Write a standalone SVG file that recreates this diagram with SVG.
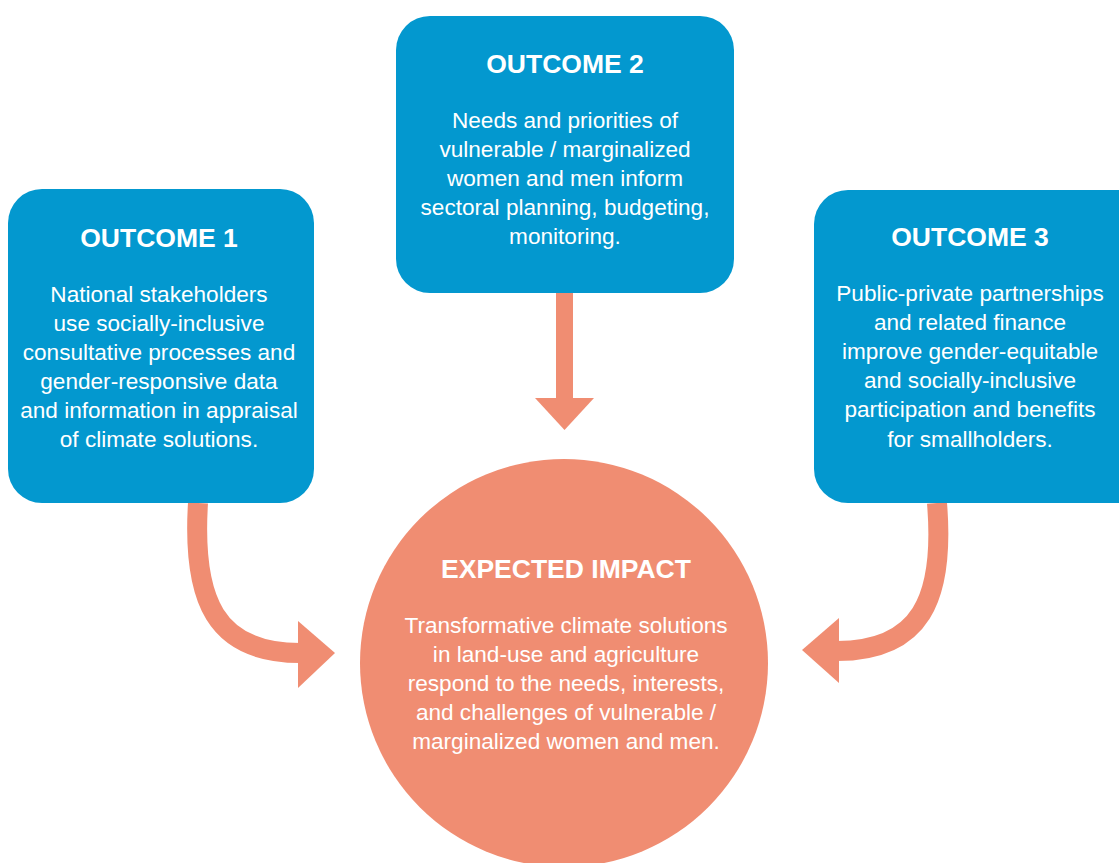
<svg xmlns="http://www.w3.org/2000/svg" width="1119" height="863" viewBox="0 0 1119 863">
<style>
.box{fill:#0398cf}
.imp{fill:#f08d72}
.arr{fill:#f08d72}
.shaft{fill:none;stroke:#f08d72;stroke-width:20}
.t{font-family:"Liberation Sans",Arial,sans-serif;font-weight:bold;font-size:26.5px;fill:#fff;text-anchor:middle}
.b{font-family:"Liberation Sans",Arial,sans-serif;font-size:22.6px;fill:#fff;text-anchor:middle}
</style>
<rect width="1119" height="863" fill="#fff"/>
<g id="connectors">
<rect x="556" y="292" width="17" height="108" class="arr"/>
<polygon points="535,398 594,398 564.5,430" class="arr"/>
<path d="M198,503 C192,600 215,653 300,653" class="shaft"/>
<polygon points="298,621 298,688 335,653" class="arr"/>
<path d="M937,503 C945,600 920,651 837,651" class="shaft"/>
<polygon points="839,618 839,683 802,650" class="arr"/>
</g>
<g id="outcome1">
<rect x="8" y="189" width="306" height="314" rx="34" class="box"/>
<text x="159" y="247" class="t">OUTCOME 1</text>
<text class="b"><tspan x="159" y="302">National stakeholders</tspan><tspan x="159" y="331">use socially-inclusive</tspan><tspan x="159" y="360">consultative processes and</tspan><tspan x="159" y="389">gender-responsive data</tspan><tspan x="159" y="418">and information in appraisal</tspan><tspan x="159" y="447">of climate solutions.</tspan></text>
</g>
<g id="outcome2">
<rect x="396" y="16" width="338" height="277" rx="34" class="box"/>
<text x="565" y="73" class="t">OUTCOME 2</text>
<text class="b"><tspan x="565" y="128">Needs and priorities of</tspan><tspan x="565" y="157">vulnerable / marginalized</tspan><tspan x="565" y="186">women and men inform</tspan><tspan x="565" y="215">sectoral planning, budgeting,</tspan><tspan x="565" y="244">monitoring.</tspan></text>
</g>
<g id="outcome3">
<rect x="814" y="190" width="340" height="313" rx="34" class="box"/>
<text x="970" y="246" class="t">OUTCOME 3</text>
<text class="b"><tspan x="970" y="301">Public-private partnerships</tspan><tspan x="970" y="330">and related finance</tspan><tspan x="970" y="359">improve gender-equitable</tspan><tspan x="970" y="388">and socially-inclusive</tspan><tspan x="970" y="417">participation and benefits</tspan><tspan x="970" y="447">for smallholders.</tspan></text>
</g>
<g id="impact">
<circle cx="564" cy="663" r="204" class="imp"/>
<text x="566" y="578" class="t">EXPECTED IMPACT</text>
<text class="b"><tspan x="566" y="633">Transformative climate solutions</tspan><tspan x="566" y="662">in land-use and agriculture</tspan><tspan x="566" y="691">respond to the needs, interests,</tspan><tspan x="566" y="720">and challenges of vulnerable /</tspan><tspan x="566" y="749">marginalized women and men.</tspan></text>
</g>
</svg>
